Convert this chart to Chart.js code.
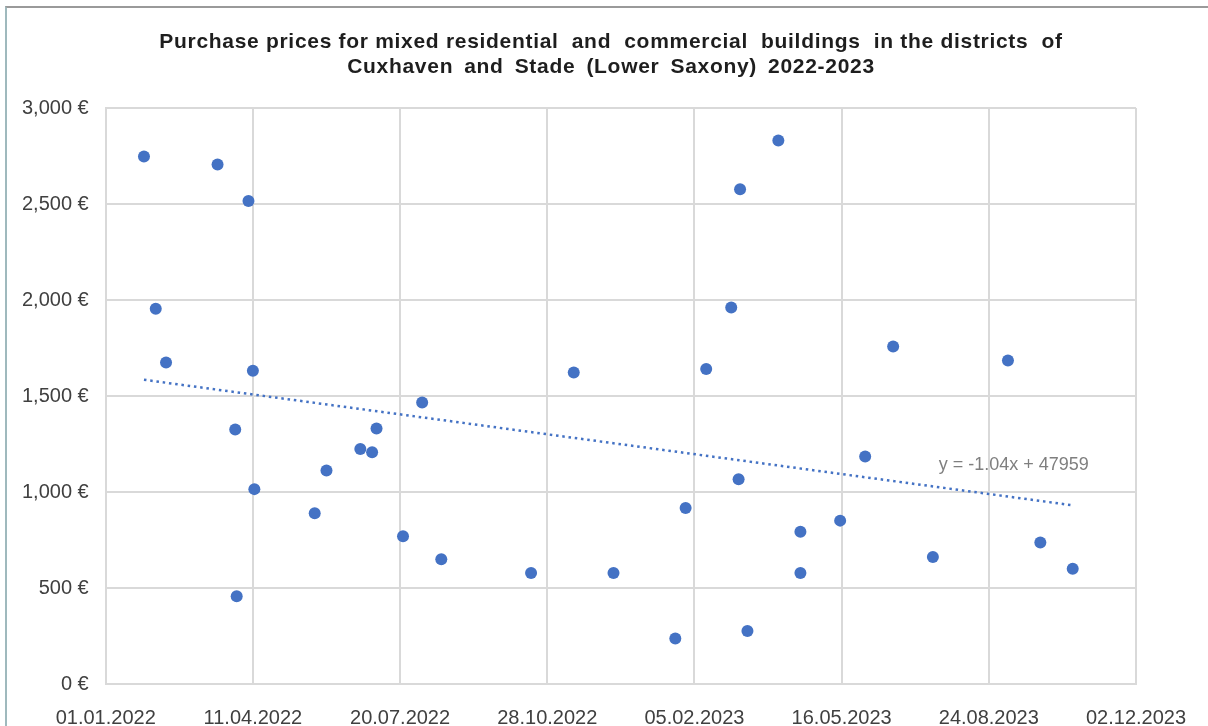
<!DOCTYPE html>
<html>
<head>
<meta charset="utf-8">
<script src="https://cdn.jsdelivr.net/npm/chart.js@4/dist/chart.umd.min.js"></script>
<style>
  html, body { margin: 0; padding: 0; background: #ffffff; }
  #wrap { position: relative; width: 1208px; height: 726px; overflow: hidden; }
  #frame { position: absolute; left: 5px; top: 6px; width: 1210px; height: 730px;
           border-left: 2px solid #9fb9bd; border-top: 2px solid #9a9a9a; box-sizing: border-box; }
  #c { position: absolute; left: 0; top: 0; }
</style>
</head>
<body>
<div id="wrap">
  <div id="frame"></div>
  <canvas id="c" width="1208" height="726"></canvas>
</div>
<script>
// ---- data ----
const saleDates = [
  '27.01.2022','04.02.2022','11.02.2022','18.03.2022','30.03.2022','31.03.2022','08.04.2022',
  '11.04.2022','12.04.2022','23.05.2022','31.05.2022','23.06.2022','01.07.2022','04.07.2022',
  '22.07.2022','04.08.2022','17.08.2022','17.10.2022','15.11.2022','12.12.2022','23.01.2023',
  '30.01.2023','13.02.2023','02.03.2023','07.03.2023','08.03.2023','13.03.2023','03.04.2023',
  '18.04.2023','18.04.2023','15.05.2023','01.06.2023','20.06.2023','17.07.2023','06.09.2023',
  '28.09.2023','20.10.2023'
];
const pricesPerSqm = [
  2747, 1955, 1675, 2706, 1326, 458, 2516,
  1632, 1016, 890, 1113, 1225, 1208, 1332,
  771, 1467, 651, 579, 1623, 579, 238,
  918, 1641, 1961, 1068, 2577, 277, 2831,
  794, 579, 852, 1186, 1759, 663, 1685,
  738, 602
];
const xTickLabels = ['01.01.2022','11.04.2022','20.07.2022','28.10.2022','05.02.2023','16.05.2023','24.08.2023','02.12.2023'];
const yTickLabels = ['0 €','500 €','1,000 €','1,500 €','2,000 €','2,500 €','3,000 €'];
const titleLines = [
  'Purchase prices for mixed residential  and  commercial  buildings  in the districts  of',
  'Cuxhaven and Stade (Lower Saxony) 2022-2023'
];
const trendLabel = 'y = -1.04x + 47959';

// ---- helpers ----
function dayIndex(s) {
  const [d, m, y] = s.split('.').map(Number);
  const base = Date.UTC(2022, 0, 1);
  return Math.round((Date.UTC(y, m - 1, d) - base) / 86400000);
}
const points = saleDates.map((d, i) => ({ x: dayIndex(d), y: pricesPerSqm[i] }));

// least-squares trendline (as Excel computes it)
const n = points.length;
const mx = points.reduce((s, p) => s + p.x, 0) / n;
const my = points.reduce((s, p) => s + p.y, 0) / n;
let sxy = 0, sxx = 0;
points.forEach(p => { sxy += (p.x - mx) * (p.y - my); sxx += (p.x - mx) * (p.x - mx); });
const slope = sxy / sxx, intercept = my - slope * mx;
const xs = points.map(p => p.x);
const xMinData = Math.min(...xs), xMaxData = Math.max(...xs);
const trendPoints = [
  { x: xMinData, y: intercept + slope * xMinData },
  { x: xMaxData, y: intercept + slope * xMaxData }
];

const FONT = "'Liberation Sans', Arial, sans-serif";
const BLUE = '#4472C4';
const GRID = '#d9d9d9';

const titlePlugin = {
  id: 'customTitle',
  afterDraw(chart) {
    const { ctx } = chart;
    ctx.save();
    ctx.font = "bold 21px " + FONT;
    ctx.fillStyle = '#1e1e1e';
    ctx.textAlign = 'center';
    ctx.textBaseline = 'middle';
    const cx = 611;
    ctx.letterSpacing = '0.7px';
    ctx.wordSpacing = '0px';
    ctx.fillText(titleLines[0], cx, 42);
    ctx.wordSpacing = '4.5px';
    ctx.fillText(titleLines[1], cx, 67);
    ctx.restore();
  }
};

const trendLabelPlugin = {
  id: 'trendLabel',
  afterDatasetsDraw(chart) {
    const { ctx, scales } = chart;
    const px = scales.x.getPixelForValue(566);
    const py = scales.y.getPixelForValue(1144);
    ctx.save();
    ctx.font = "18px " + FONT;
    ctx.fillStyle = '#7f7f7f';
    ctx.textAlign = 'left';
    ctx.textBaseline = 'middle';
    ctx.fillText(trendLabel, px, py);
    ctx.restore();
  }
};

new Chart(document.getElementById('c'), {
  type: 'scatter',
  data: {
    datasets: [
      {
        label: 'Purchase price',
        data: points,
        backgroundColor: BLUE,
        borderWidth: 0,
        pointRadius: 6,
        pointHoverRadius: 6
      },
      {
        label: 'Linear trend',
        type: 'line',
        data: trendPoints,
        borderColor: BLUE,
        borderWidth: 2.5,
        borderDash: [2.5, 3.8],
        pointRadius: 0,
        fill: false
      }
    ]
  },
  options: {
    responsive: false,
    animation: false,
    layout: { padding: { left: 0, right: 0, top: 108, bottom: 0 } },
    plugins: {
      legend: { display: false },
      tooltip: { enabled: false },
      title: { display: false }
    },
    scales: {
      x: {
        type: 'linear',
        min: 0,
        max: 700,
        ticks: {
          stepSize: 100,
          color: '#404040',
          font: { family: FONT, size: 20 },
          padding: 22,
          maxRotation: 0,
          autoSkip: false,
          callback: (v, i) => xTickLabels[i]
        },
        grid: { color: GRID, lineWidth: 2, drawTicks: false },
        border: { color: GRID, width: 2 },
        afterFit(scale) { scale.height = 41.7; scale.paddingLeft = 0; scale.paddingRight = 72; }
      },
      y: {
        min: 0,
        max: 3000,
        ticks: {
          stepSize: 500,
          color: '#404040',
          font: { family: FONT, size: 20 },
          padding: 17,
          callback: (v, i) => yTickLabels[i]
        },
        grid: { color: GRID, lineWidth: 2, drawTicks: false },
        border: { color: GRID, width: 2 },
        afterFit(scale) { scale.width = 105.7; scale.paddingTop = 0; scale.paddingBottom = 0; }
      }
    }
  },
  plugins: [trendLabelPlugin, titlePlugin]
});
</script>
</body>
</html>
